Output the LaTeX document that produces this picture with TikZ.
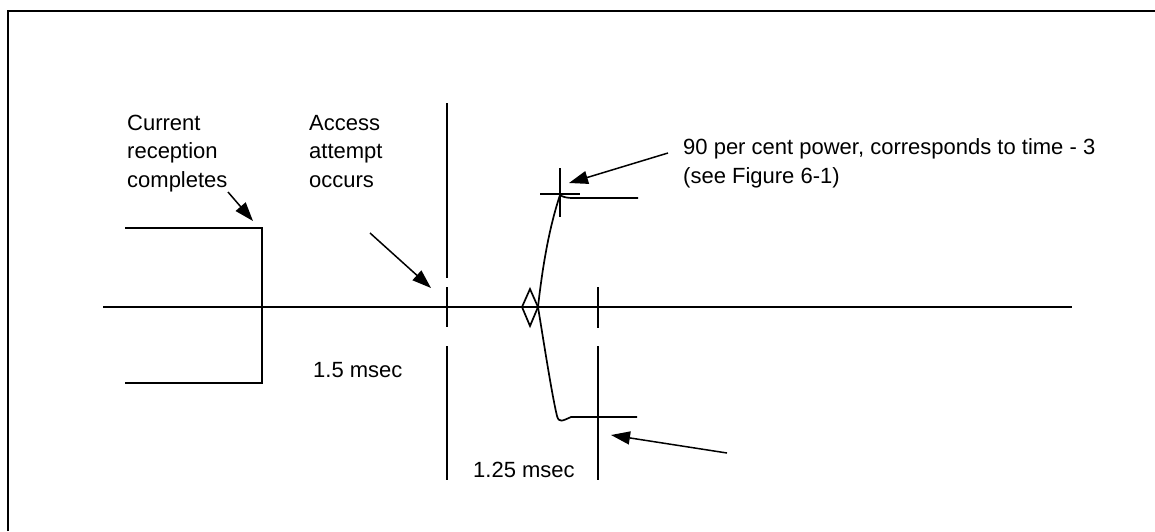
\documentclass[tikz,border=0pt]{standalone}
\usepackage{fontspec}
\setmainfont{Liberation Sans}
\usetikzlibrary{arrows.meta}
\begin{document}
\begin{tikzpicture}[x=1pt,y=-1pt,
  wire/.style={line width=1.7pt},
  pointer/.style={line width=1.5pt,-{Triangle[length=19pt,width=13pt]}},
  lbl/.style={inner sep=0pt,anchor=base west,align=left,font=\fontsize{22}{28.5}\selectfont}]
\useasboundingbox (0,0) rectangle (1155,531);
\draw[line width=1.6pt] (8,531) -- (8,11) -- (1155,11);
% axis
\coordinate (axL) at (103,307);
\coordinate (axR) at (1072,307);
\draw[wire] (axL) -- (axR);
% received pulse
\coordinate (pTL) at (125,228);
\coordinate (pTR) at (262,228);
\coordinate (pBR) at (262,383);
\coordinate (pBL) at (125,383);
\draw[wire] (pTL) -- (pTR) -- (pBR) -- (pBL);
% access attempt marker
\draw[wire] (447,103) -- (447,278);
\draw[wire] (447,287) -- (447,327);
\draw[wire] (447,346) -- (447,480);
% end marker
\draw[wire] (598,287) -- (598,328);
\draw[wire] (598,346) -- (598,480);
% diamond
\coordinate (dT) at (530,289);
\coordinate (dR) at (538,307);
\coordinate (dB) at (530,326);
\coordinate (dL) at (522,307);
\draw[wire] (dT) -- (dR) -- (dB) -- (dL) -- cycle;
% ramps
\coordinate (up) at (560,195);
\draw[wire] (dR) .. controls (543,262) and (550,225) .. (up)
  .. controls (563,197) and (566,198) .. (574,198) -- (638,198);
\draw[wire] (dR) .. controls (545,350) and (552,395) .. (557,416)
  .. controls (559,423) and (562,421) .. (571,417) -- (637,417);
% crosshair
\draw[wire] (560,168) -- (560,217);
\draw[wire] (540,194) -- (580,194);
% labels (base anchor = baseline of the last line)
\node[lbl] (cur) at (127,187) {Current\\reception\\completes};
\node[lbl] (acc) at (309,187) {Access\\attempt\\occurs};
\node[lbl] (t1) at (313,377) {1.5 msec};
\node[lbl] (t2) at (473,477) {1.25 msec};
\node[lbl] (pw) at (683,183) {90 per cent power, corresponds to time - 3\\(see Figure 6-1)};
% arrows
\coordinate (a1s) at (228,192); \coordinate (a1e) at (253,221);
\coordinate (a2s) at (370,233); \coordinate (a2e) at (431,288);
\coordinate (a3s) at (668,153); \coordinate (a3e) at (569,183);
\coordinate (a4s) at (727,453); \coordinate (a4e) at (611,435);
\draw[pointer] (a1s) -- (a1e);
\draw[pointer] (a2s) -- (a2e);
\draw[pointer] (a3s) -- (a3e);
\draw[pointer] (a4s) -- (a4e);
\end{tikzpicture}
\end{document}
